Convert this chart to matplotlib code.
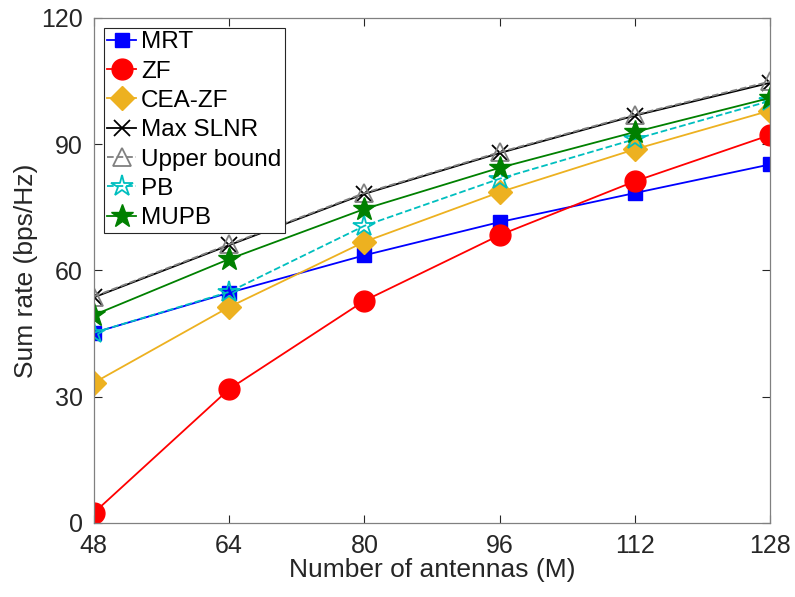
import matplotlib
matplotlib.use('Agg')
import matplotlib.pyplot as plt

plt.rcParams['font.family'] = ['Liberation Sans', 'DejaVu Sans']

antennas = [48, 64, 80, 96, 112, 128]
mrt = [45.2, 54.7, 63.6, 71.5, 78.4, 85.2]
zf = [2.4, 31.8, 52.8, 68.4, 81.2, 92.2]
cea_zf = [33.3, 51.3, 66.8, 78.6, 88.8, 98.0]
max_slnr = [53.6, 66.0, 78.2, 87.9, 96.8, 104.6]
upper_bound = [53.8, 66.2, 78.4, 88.1, 97.0, 104.9]
pb = [45.2, 54.9, 70.6, 81.8, 91.2, 100.3]
mupb = [49.4, 62.7, 74.6, 84.4, 92.9, 101.0]

xticks = [48, 64, 80, 96, 112, 128]
yticks = [0, 30, 60, 90, 120]

fig = plt.figure(figsize=(7.95, 5.97), dpi=100)
ax = fig.add_axes([0.118, 0.124, 0.851, 0.846])

gold = (0.929, 0.694, 0.125)
ax.plot(antennas, mrt, '-s', color='blue', markerfacecolor='blue', ms=10, lw=1.3, label='MRT')
ax.plot(antennas, zf, '-o', color='red', markerfacecolor='red', ms=15, lw=1.3, label='ZF')
ax.plot(antennas, cea_zf, '-D', color=gold, markerfacecolor=gold, ms=12, lw=1.3, label='CEA-ZF')
ax.plot(antennas, max_slnr, '-x', color='black', ms=11, mew=1.3, lw=1.3, label='Max SLNR')
ax.plot(antennas, upper_bound, '--^', color='gray', markerfacecolor='none', ms=13, mew=1.3, lw=1.3, label='Upper bound')
ax.plot(antennas, pb, '--*', color='c', markerfacecolor='none', ms=16, mew=1.3, lw=1.3, label='PB')
ax.plot(antennas, mupb, '-*', color='green', markerfacecolor='green', ms=17, lw=1.3, label='MUPB')

ax.set_xlim(48, 128)
ax.set_ylim(0, 120)
ax.set_xticks(xticks)
ax.set_yticks(yticks)
ax.tick_params(direction='in', length=6, width=0.8, colors='#262626', labelsize=18,
               top=True, right=True, pad=8)
for s in ax.spines.values():
    s.set_color('#808080')
    s.set_linewidth(0.9)

ax.set_xlabel('Number of antennas (M)', fontsize=19, color='#262626', labelpad=0)
ax.set_ylabel('Sum rate (bps/Hz)', fontsize=19, color='#262626', labelpad=2)

leg = ax.legend(loc='upper left', fontsize=17.5, fancybox=False, edgecolor='#262626',
                framealpha=1, handlelength=1.2, handletextpad=0.2, labelspacing=0.3,
                borderpad=0.15, borderaxespad=0.4)
leg.get_frame().set_linewidth(0.8)

fig.savefig('out.png', dpi=100)
